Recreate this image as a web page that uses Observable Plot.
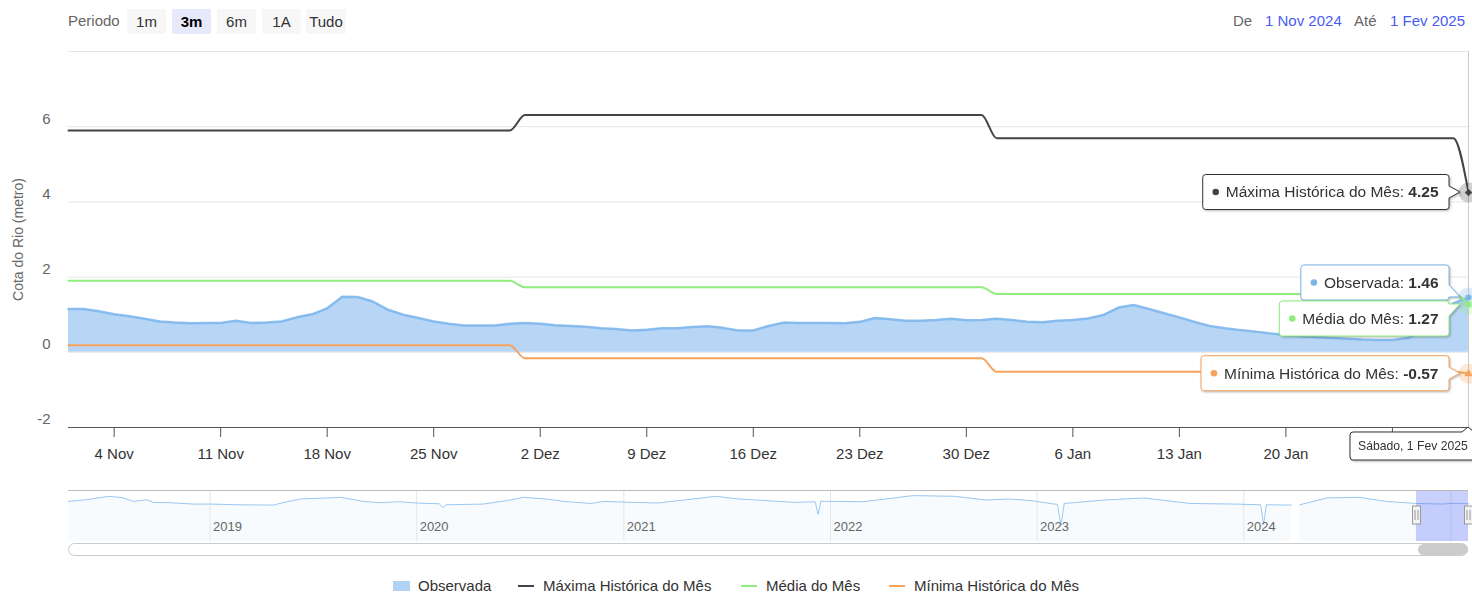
<!DOCTYPE html>
<html><head><meta charset="utf-8">
<script src="https://cdn.jsdelivr.net/npm/d3@7"></script>
<script src="https://cdn.jsdelivr.net/npm/@observablehq/plot@0.6"></script>
<style>
html,body{margin:0;padding:0;background:#fff}
body{width:1472px;height:592px;overflow:hidden;position:relative;font-family:"Liberation Sans",Arial,Helvetica,sans-serif}
.abs{position:absolute;white-space:nowrap}
.btn{position:absolute;top:9px;height:25px;line-height:25px;width:39px;text-align:center;background:#f7f7f7;color:#333;font-size:15px;border-radius:2px}
.btn.sel{background:#e6e9fb;color:#000;font-weight:bold}
.lg{position:absolute;top:577px;height:18px;line-height:18px;font-size:15px;color:#333;white-space:nowrap}
svg{overflow:visible}
</style></head><body>
<div id="header"></div>
<div id="main" class="abs" style="left:0;top:0"></div>
<div id="nav" class="abs" style="left:0;top:490px"></div>
<div id="legend"></div>
<script>
const FONT = '"Liberation Sans", Arial, Helvetica, sans-serif';
// ---------- data ----------
const monthsPt = ["Jan","Fev","Mar","Abr","Mai","Jun","Jul","Ago","Set","Out","Nov","Dez"];
const weekdaysPt = ["Domingo","Segunda","Terça","Quarta","Quinta","Sexta","Sábado"];
const seriesNames = ["Observada","Máxima Histórica do Mês","Média do Mês","Mínima Histórica do Mês"];
const seriesColors = ["#7cb5ec","#434348","#90ed7d","#f7a35c"];
const periodButtons = ["1m","3m","6m","1A","Tudo"];
const selectedButton = "3m";
const rangeFrom = "2024-11-01", rangeTo = "2025-02-01";

// Observada, daily from 1 Nov 2024 to 1 Fev 2025 (metros)
const observada = [
  1.15,1.15,1.09,1.01,0.96,0.89,0.82,0.79,0.77,0.78,0.78,0.84,0.78,0.79,0.82,0.93,1.01,1.17,1.48,1.47,1.35,1.13,1.00,0.91,0.82,0.76,0.71,0.71,0.71,0.76,
  0.78,0.76,0.72,0.70,0.68,0.64,0.62,0.58,0.60,0.64,0.64,0.67,0.69,0.65,0.58,0.58,0.70,0.79,0.78,0.78,0.78,0.77,0.81,0.91,0.88,0.84,0.84,0.86,0.89,0.85,0.86,
  0.89,0.86,0.81,0.80,0.84,0.86,0.90,0.99,1.19,1.26,1.15,1.04,0.93,0.81,0.70,0.64,0.59,0.55,0.50,0.46,0.43,0.40,0.38,0.36,0.34,0.33,0.33,0.38,0.55,0.95,1.30,
  1.46
];
// monthly reference levels (first/last day of each month)
const monthEdges = ["2024-11-01","2024-11-30","2024-12-01","2024-12-31","2025-01-01","2025-01-31","2025-02-01"];
const maxima = [5.90,5.90,6.31,6.31,5.69,5.69,4.25];
const media  = [1.90,1.90,1.73,1.73,1.55,1.55,1.27];
const minima = [0.19,0.19,-0.16,-0.16,-0.52,-0.52,-0.57];

const xTicks = ["2024-11-04","2024-11-11","2024-11-18","2024-11-25","2024-12-02","2024-12-09","2024-12-16","2024-12-23","2024-12-30","2025-01-06","2025-01-13","2025-01-20","2025-01-27"];
const xTickLabels = ["4 Nov","11 Nov","18 Nov","25 Nov","2 Dez","9 Dez","16 Dez","23 Dez","30 Dez","6 Jan","13 Jan","20 Jan",""]; // last label hidden under the date tooltip
const yTicks = [-2,0,2,4,6];
const yGrid = [0,2,4,6,8];
const yDomain = [-2,8];

// navigator (whole history)
const navDates = ["2018-04-26","2018-05-28","2018-07-06","2018-07-30","2018-08-19","2018-09-11","2018-09-23","2018-10-24","2018-12-02","2019-01-01",
  "2019-02-20","2019-04-23","2019-05-09","2019-06-10","2019-07-28","2019-08-20","2019-09-29","2019-10-29","2019-11-30","2020-01-01",
  "2020-02-10","2020-02-16","2020-02-22","2020-04-28","2020-06-07","2020-07-08","2020-08-17","2020-09-18","2020-11-03","2020-11-27",
  "2020-12-29","2021-03-01","2021-04-18","2021-06-12","2021-07-22","2021-08-28","2021-10-31","2021-12-05","2021-12-10","2021-12-15",
  "2022-02-28","2022-05-27","2022-08-08","2022-10-03","2022-11-13","2022-12-23","2023-01-31","2023-02-06","2023-02-12","2023-02-18",
  "2023-04-30","2023-07-09","2023-09-28","2023-12-17","2024-01-26","2024-01-31","2024-02-05","2024-02-10","2024-03-25","2024-04-01",
  "2024-04-09","2024-05-27","2024-07-23","2024-09-08","2024-10-31","2024-12-15","2025-01-10","2025-02-01"];
const navValues = [0.98,1.15,1.48,1.35,0.98,1.15,0.88,0.85,0.72,0.72,
  0.65,0.62,0.85,1.22,1.32,1.38,0.98,0.85,0.95,0.82,
  0.75,0.38,0.65,0.72,1.05,1.38,1.22,0.98,0.78,0.98,
  0.92,0.82,1.12,1.48,1.22,1.10,0.88,0.95,-0.28,1.00,
  0.95,1.55,1.48,1.12,1.22,1.05,0.72,0.70,-1.35,0.78,
  1.12,1.32,0.78,0.72,0.65,0.64,-1.28,0.65,0.62,null,
  0.65,1.32,1.38,0.98,0.78,0.72,0.80,0.75];
const navDomainX = ["2018-04-26","2025-02-01"];
const navDomainY = [-2.95,2.05];
const navYears = ["2019-01-01","2020-01-01","2021-01-01","2022-01-01","2023-01-01","2024-01-01","2025-01-01"];
const navYearLabels = ["2019","2020","2021","2022","2023","2024"];

// ---------- tables ----------
const start = new Date(rangeFrom), end = new Date(rangeTo);
const days = d3.utcDay.range(start, d3.utcDay.offset(end, 1));
const obsData = observada.map((v, i) => ({date: days[i], v}));
const edgeDates = monthEdges.map(d => new Date(d));
const mk = arr => arr.map((v, i) => ({date: edgeDates[i], v}));
const maxData = mk(maxima), medData = mk(media), minData = mk(minima);
const navData = navDates.map((d, i) => ({date: new Date(d), v: navValues[i]}));
const tickDates = xTicks.map(d => new Date(d));
const tickLabelOf = new Map(tickDates.map((d, i) => [+d, xTickLabels[i]]));
const fmtFull = d => `${d.getUTCDate()} ${monthsPt[d.getUTCMonth()]} ${d.getUTCFullYear()}`;

// ---------- main chart ----------
const lastObs = obsData[obsData.length - 1];
const lastPts = [
  {name: seriesNames[0], color: seriesColors[0], v: lastObs.v, symbol: "circle", r: 4.5},
  {name: seriesNames[1], color: seriesColors[1], v: maxima[maxima.length-1], symbol: "diamond2", r: 5.5},
  {name: seriesNames[2], color: seriesColors[2], v: media[media.length-1], symbol: "square", r: 4.5},
  {name: seriesNames[3], color: seriesColors[3], v: minima[minima.length-1], symbol: "triangle", r: 5}
].map(d => ({...d, date: end}));

const chart = Plot.plot({
  width: 1472, height: 470,
  marginTop: 51, marginBottom: 43, marginLeft: 68, marginRight: 4,
  style: {fontFamily: FONT, fontSize: "15px", color: "#333", background: "transparent", overflow: "visible"},
  x: {type: "utc", domain: [start, end], axis: null},
  y: {domain: yDomain, axis: null},
  marks: [
    Plot.ruleY(yGrid, {stroke: "#e6e6e6", strokeWidth: 1}),
    Plot.areaY(obsData, {x: "date", y: "v", fill: seriesColors[0], fillOpacity: 0.55}),
    Plot.lineY(obsData, {x: "date", y: "v", stroke: seriesColors[0], strokeWidth: 2.5, strokeOpacity: 0.85}),
    Plot.lineY(maxData, {x: "date", y: "v", stroke: seriesColors[1], strokeWidth: 2, curve: "monotone-x"}),
    Plot.lineY(medData, {x: "date", y: "v", stroke: seriesColors[2], strokeWidth: 2, curve: "monotone-x"}),
    Plot.lineY(minData, {x: "date", y: "v", stroke: seriesColors[3], strokeWidth: 2, curve: "monotone-x"}),
    Plot.ruleX([end], {stroke: "#cccccc", strokeWidth: 1}),
    Plot.ruleY([yDomain[0]], {stroke: "#555", strokeWidth: 1}),
    Plot.axisX(tickDates, {tickSize: 10, tickPadding: 11, tickFormat: d => tickLabelOf.get(+d), fontSize: 15, stroke: "#555", fill: "#333", label: null}),
    Plot.axisY(yTicks, {tickSize: 0, tickPadding: 18, dy: -8, fontSize: 15, fill: "#666", label: null, tickFormat: d => String(d)}),
    Plot.text(["Cota do Rio (metro)"], {text: d => d, frameAnchor: "left", textAnchor: "middle", rotate: -90, dx: -50, fill: "#666", fontSize: 14}),
    Plot.dot(lastPts, {x: "date", y: "v", r: 10, fill: "color", fillOpacity: 0.25}),
    Plot.dot(lastPts, {x: "date", y: "v", r: "r", fill: "color", symbol: "symbol"})
  ]
});
document.getElementById("main").appendChild(chart);

// tooltips (split)
const sx = chart.scale("x"), sy = chart.scale("y");
const px = sx.apply(end);
function callout(l, t, r, b, ax, ay, rad = 3) {
  const cy = Math.max(t + rad + 6, Math.min(b - rad - 6, ay));
  return `M${l+rad},${t}H${r-rad}Q${r},${t} ${r},${t+rad}V${cy-6}L${ax},${ay}L${r},${cy+6}V${b-rad}Q${r},${b} ${r-rad},${b}H${l+rad}Q${l},${b} ${l},${b-rad}V${t+rad}Q${l},${t} ${l+rad},${t}Z`;
}
const svg = d3.select(chart);
function addTip(p, cy) {
  const right = px - 19, ay = sy.apply(p.v), ax = px - 8;
  const g = svg.append("g").attr("text-anchor", "start").style("filter", "drop-shadow(1px 1px 1.2px rgba(0,0,0,0.28))");
  const path = g.append("path").attr("fill", "#fff").attr("stroke", p.name === seriesNames[1] ? "#333" : p.color).attr("stroke-width", 1);
  const text = g.append("text").attr("text-anchor", "start").attr("font-size", 15.5).attr("font-family", FONT).attr("fill", "#333").attr("y", cy).attr("dy", "0.35em");
  text.append("tspan").text(p.name + ": ");
  text.append("tspan").attr("font-weight", "bold").text(p.v.toFixed(2));
  const tw = text.node().getComputedTextLength();
  const left = right - 10.5 - tw - 23;
  text.attr("x", left + 23);
  g.append("circle").attr("cx", left + 13).attr("cy", cy).attr("r", 3.3).attr("fill", p.color);
  path.attr("d", callout(left, cy - 17.5, right, cy + 17.5, ax, ay));
}
const [pObs, pMax, pMed, pMin] = lastPts;
const mid = (sy.apply(pObs.v) + sy.apply(pMed.v)) / 2;
addTip(pMax, sy.apply(pMax.v));
addTip(pObs, mid - 18);
addTip(pMed, mid + 18);
addTip(pMin, sy.apply(pMin.v));
// date label under axis
{
  const g = svg.append("g").attr("text-anchor", "start").style("filter", "drop-shadow(1px 1px 1.2px rgba(0,0,0,0.28))");
  const yTop = sy.apply(yDomain[0]) + 5, yBot = yTop + 28, l = px - 118, r = px + 14, rad = 3;
  g.append("path").attr("fill", "#fff").attr("stroke", "#333").attr("stroke-width", 1)
    .attr("d", `M${l+rad},${yTop}H${px-6}L${px},${yTop-5}L${px+6},${yTop}H${r}V${yBot}H${l+rad}Q${l},${yBot} ${l},${yBot-rad}V${yTop+rad}Q${l},${yTop} ${l+rad},${yTop}Z`);
  g.append("text").attr("text-anchor", "start").attr("x", l + 8).attr("y", (yTop + yBot) / 2).attr("dy", "0.35em").attr("font-size", 12.2)
    .attr("font-family", FONT).attr("fill", "#333").text(`${weekdaysPt[end.getUTCDay()]}, ${fmtFull(end)}`);
}

// ---------- navigator ----------
const selFrom = new Date(rangeFrom), selTo = new Date(rangeTo);
const nav = Plot.plot({
  width: 1472, height: 51, marginTop: 0, marginBottom: 0, marginLeft: 68, marginRight: 4,
  style: {fontFamily: FONT, background: "transparent", overflow: "visible"},
  x: {type: "utc", domain: navDomainX.map(d => new Date(d)), axis: null},
  y: {domain: navDomainY, axis: null},
  marks: [
    Plot.areaY(navData, {x: "date", y1: navDomainY[0], y2: "v", fill: seriesColors[0], fillOpacity: 0.06}),
    Plot.ruleX(navYears.map(d => new Date(d)), {stroke: "#e6e6e6"}),
    Plot.lineY(navData, {x: "date", y: "v", stroke: seriesColors[0], strokeOpacity: 0.75, strokeWidth: 1}),
    Plot.text(navYearLabels, {x: d => new Date(d + "-01-01"), text: d => d, frameAnchor: "bottom", dy: -11, dx: 3, textAnchor: "start", fill: "#666", fontSize: 13}),
    Plot.rect([0], {x1: () => selFrom, x2: () => selTo, y1: navDomainY[0], y2: navDomainY[1], fill: "rgba(80,100,245,0.3)"}),
    Plot.ruleY([navDomainY[1]], {stroke: "#bbbbbb"})
  ]
});
document.getElementById("nav").appendChild(nav);
{
  const nx = nav.scale("x");
  const ns = d3.select(nav);
  for (const d of [selFrom, selTo]) {
    const x = Math.round(nx.apply(d)) + 0.5;
    ns.append("rect").attr("x", x - 4).attr("y", 16).attr("width", 8).attr("height", 18).attr("fill", "#f2f2f2").attr("stroke", "#999");
    ns.append("path").attr("d", `M${x-1.5},20V30M${x+1.5},20V30`).attr("stroke", "#999");
  }
  // scrollbar
  const sb = document.createElement("div");
  sb.className = "abs";
  Object.assign(sb.style, {left: "68px", top: "543px", width: "1398px", height: "11px", border: "1px solid #cccccc", borderRadius: "7px", background: "#fff"});
  document.body.appendChild(sb);
  const th = document.createElement("div");
  th.className = "abs";
  const a = nx.apply(selFrom), b = nx.apply(selTo);
  Object.assign(th.style, {left: (a + 2) + "px", top: "544px", width: (b - a - 2) + "px", height: "11px", borderRadius: "6px", background: "#cccccc"});
  document.body.appendChild(th);
}

// ---------- header ----------
{
  const h = document.getElementById("header");
  const per = document.createElement("div");
  per.className = "abs"; per.textContent = "Periodo";
  Object.assign(per.style, {left: "68px", top: "12px", fontSize: "15px", color: "#666", lineHeight: "18px"});
  h.appendChild(per);
  const lefts = [127, 172, 217, 262, 306];
  periodButtons.forEach((t, i) => {
    const b = document.createElement("div");
    b.className = "btn" + (t === selectedButton ? " sel" : "");
    b.textContent = t;
    b.style.left = lefts[i] + "px";
    if (t === "Tudo") b.style.width = "40px";
    h.appendChild(b);
  });
  const items = [["De", 1233, "#666"], [fmtFull(new Date(rangeFrom)), 1265, "#4a5cf0"], ["Até", 1354, "#666"], [fmtFull(new Date(rangeTo)), 1390, "#4a5cf0"]];
  for (const [t, x, c] of items) {
    const d = document.createElement("div");
    d.className = "abs"; d.textContent = t;
    Object.assign(d.style, {left: x + "px", top: "12px", fontSize: "15px", color: c, lineHeight: "18px"});
    h.appendChild(d);
  }
}

// ---------- legend ----------
{
  const L = document.getElementById("legend");
  const xs = [393, 518, 741, 889];
  seriesNames.forEach((n, i) => {
    const it = document.createElement("div");
    it.className = "lg"; it.style.left = xs[i] + "px";
    const sym = i === 0
      ? `<span style="display:inline-block;width:17px;height:8px;background:${seriesColors[0]};opacity:0.6;border-top:2px solid ${seriesColors[0]};vertical-align:middle;margin-right:8px;position:relative;top:-1px"></span>`
      : `<span style="display:inline-block;width:16px;height:2px;background:${seriesColors[i]};vertical-align:middle;margin-right:9px;position:relative;top:-1px"></span>`;
    it.innerHTML = sym + n;
    L.appendChild(it);
  });
}
</script>
</body></html>
